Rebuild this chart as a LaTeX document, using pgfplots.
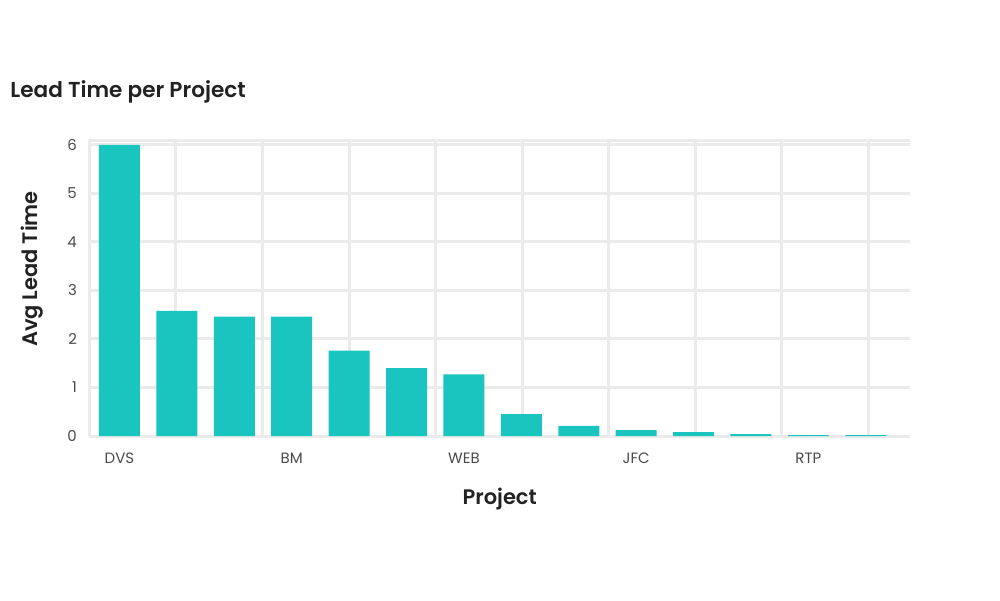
\documentclass[border=0pt]{standalone}
\usepackage{fontspec}
\setmainfont{Poppins}[BoldFont={Poppins SemiBold}]
\usepackage{pgfplots}
\pgfplotsset{compat=1.18}
\definecolor{barteal}{HTML}{1AC5C0}
\definecolor{gridgray}{HTML}{EBEBEB}
\definecolor{ticktext}{HTML}{4A4A4A}
\definecolor{labeltext}{HTML}{222222}

\begin{document}
\begin{tikzpicture}
\path[use as bounding box] (0pt,0pt) rectangle (500pt,300pt);
\node[anchor=base west, font=\fontsize{10.8}{12}\selectfont\bfseries, text=labeltext, inner sep=0pt]
  at (5pt,251pt) {Lead Time per Project};
\begin{axis}[
    at={(44.65pt,82pt)}, anchor=south west,
    scale only axis,
    width=410.35pt, height=148pt,
    ybar, bar width=20.5pt,
    xmin=-0.526, xmax=13.77,
    ymin=0, ymax=6.1,
    xtick={0,3,6,9,12},
    xticklabels={DVS,BM,WEB,JFC,RTP},
    ytick={0,1,2,3,4,5,6},
    extra x ticks={-0.526,0.982,2.490,3.998,5.506,7.014,8.522,10.030,11.538,13.046},
    extra x tick labels={},
    extra x tick style={grid=major},
    extra y ticks={6.1},
    extra y tick labels={},
    ymajorgrids,
    major tick length=0pt,
    axis line style={draw=none},
    grid style={draw=gridgray, line width=1.5pt},
    tick label style={font=\fontsize{7.5}{9}\selectfont, text=ticktext},
    xticklabel style={anchor=north, inner sep=0pt, yshift=-8.5pt},
    yticklabel style={anchor=east, inner sep=0pt, xshift=-6pt},
    /pgf/number format/assume math mode=true,
    xlabel={Project},
    ylabel={Avg Lead Time},
    label style={font=\fontsize{10.5}{12}\selectfont\bfseries, text=labeltext},
    xlabel style={at={(rel axis cs:0.5,0)}, anchor=center, yshift=-31.5pt},
    ylabel style={at={(rel axis cs:0,0.564)}, anchor=center, rotate=0, yshift=28.5pt},
]
\addplot[fill=barteal, draw=none] coordinates {
  (0,6.0) (1,2.58) (2,2.46) (3,2.46) (4,1.76) (5,1.40) (6,1.27)
  (7,0.45) (8,0.21) (9,0.12) (10,0.08) (11,0.04) (12,0.02) (13,0.02)
};
\end{axis}
\end{tikzpicture}
\end{document}
